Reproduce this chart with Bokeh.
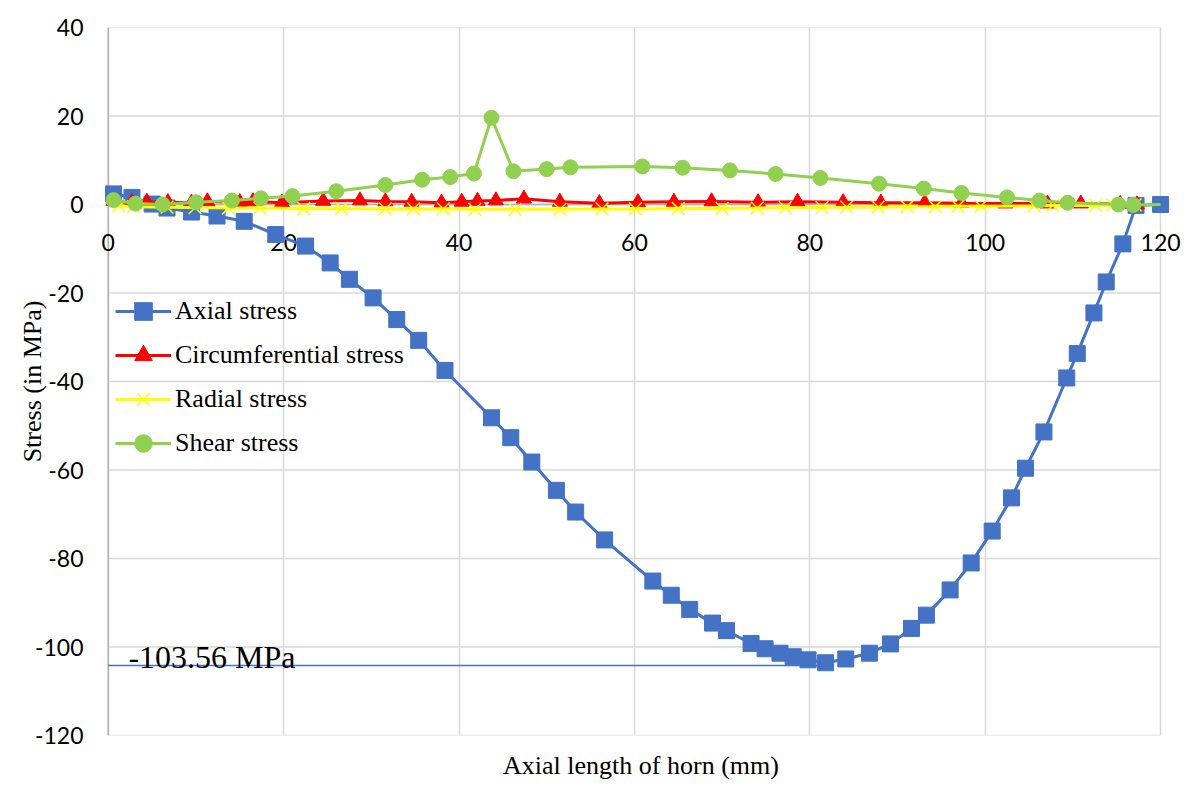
from bokeh.plotting import figure
from bokeh.models import FixedTicker, Legend, LegendItem
from bokeh.core.properties import value
from bokeh.embed import file_html
from bokeh.resources import INLINE

# ---- data ----
axial_x = [0.6, 2.7, 5.0, 6.7, 9.5, 12.4, 15.5, 19.1, 22.5, 25.3, 27.5, 30.2, 32.9, 35.4, 38.4,
           43.7, 45.9, 48.3, 51.1, 53.3, 56.6, 62.1, 64.2, 66.3, 68.9, 70.5, 73.3, 74.9, 76.6,
           78.1, 79.8, 81.8, 84.1, 86.8, 89.2, 91.6, 93.3, 96.0, 98.4, 100.8, 103.0, 104.6,
           106.7, 109.3, 110.5, 112.4, 113.8, 115.7, 117.2, 120.0]
axial_y = [2.4, 1.6, 0.1, -0.8, -1.7, -2.6, -3.8, -6.8, -9.4, -13.2, -16.9, -21.1, -26.0, -30.7, -37.5,
           -48.2, -52.7, -58.2, -64.6, -69.5, -75.8, -85.1, -88.3, -91.5, -94.6, -96.3, -99.2, -100.4, -101.4,
           -102.2, -102.9, -103.56, -102.7, -101.4, -99.3, -95.8, -92.8, -87.1, -81.0, -73.8, -66.3, -59.6,
           -51.4, -39.2, -33.7, -24.5, -17.5, -8.9, -0.2, 0.0]

circ_x = [0.6, 2.7, 4.4, 6.8, 9.5, 11.3, 15.0, 16.5, 19.8, 24.5, 28.7, 31.6, 34.6, 38.0, 40.3, 42.1,
          44.2, 47.4, 51.5, 56.0, 60.4, 64.5, 68.8, 74.1, 78.6, 83.8, 88.1, 93.1, 97.3, 102.3,
          107.1, 110.9, 115.4, 117.3]
circ_y = [0.8, 0.5, 0.6, 0.5, 0.4, 0.7, 0.5, 0.7, 0.4, 0.8, 0.9, 0.7, 0.6, 0.4, 0.6, 0.8,
          0.9, 1.3, 0.6, 0.3, 0.5, 0.6, 0.7, 0.5, 0.6, 0.5, 0.4, 0.4, 0.3, 0.2,
          0.2, 0.2, 0.1, 0.0]

radial_x = [1.2, 2.9, 6.7, 9.9, 13.7, 17.3, 22.3, 26.6, 31.6, 34.8, 38.2, 41.8, 46.4, 51.5, 56.3,
            60.1, 65.0, 70.0, 74.0, 77.2, 81.4, 84.2, 87.8, 91.1, 94.3, 96.9, 99.5, 105.6, 107.7,
            112.6, 114.5, 117.1]
radial_y = [-0.3, -0.5, -0.6, -0.7, -0.8, -0.8, -0.9, -0.9, -1.0, -1.0, -1.0, -1.1, -1.1, -1.1, -1.0,
            -1.0, -0.9, -0.9, -0.8, -0.7, -0.7, -0.6, -0.6, -0.5, -0.5, -0.4, -0.4, -0.3, -0.2,
            -0.2, -0.1, -0.1]

shear_x = [0.6, 3.1, 6.2, 10.0, 14.1, 17.4, 21.0, 26.0, 31.6, 35.8, 39.0, 41.7, 43.7, 46.2, 50.0,
           52.7, 60.9, 65.5, 70.9, 76.1, 81.2, 87.9, 93.0, 97.3, 102.5, 106.2, 109.4, 115.2, 116.9, 120.0]
shear_y = [1.0, 0.2, 0.0, 0.5, 0.9, 1.4, 1.9, 3.0, 4.4, 5.6, 6.2, 7.0, 19.6, 7.5, 8.0,
           8.4, 8.6, 8.3, 7.7, 6.9, 6.0, 4.7, 3.6, 2.6, 1.6, 0.9, 0.4, 0.0, -0.1, 0.0]

x_ticks = [0, 20, 40, 60, 80, 100, 120]
y_ticks = [-120, -100, -80, -60, -40, -20, 0, 20, 40]
min_label = "-103.56 MPa"
min_line_y = -104.2
min_line_x_end = 81.8

SERIF = "Liberation Serif"
SANS = "Lato"

X0, X1 = x_ticks[0], x_ticks[-1]
Y0, Y1 = y_ticks[0], y_ticks[-1]

# frame is a little wider than the 0..120 plot area so the edge tick labels are not clipped
p = figure(frame_width=1083, frame_height=708,
           x_range=(-1, 122.5), y_range=(Y0, Y1),
           output_backend="svg", toolbar_location=None,
           min_border_left=99, min_border_top=27, min_border_right=18, min_border_bottom=47)
p.outline_line_color = None
p.background_fill_color = "white"
p.border_fill_color = "white"

# vertical grid
p.xgrid.ticker = FixedTicker(ticks=x_ticks)
p.xgrid.grid_line_color = "#d9d9d9"
p.xgrid.grid_line_width = 1.5
# horizontal grid limited to the 0..120 plot area
p.ygrid.visible = False
p.segment(x0=[X0] * len(y_ticks), x1=[X1] * len(y_ticks), y0=y_ticks, y1=y_ticks,
          line_color="#d9d9d9", line_width=1.5)
# axis lines (y = 0 and x = 0)
p.segment(x0=[X0], x1=[X1], y0=[0], y1=[0], line_color="#b0b0b0", line_width=1.5)
p.segment(x0=[0], x1=[0], y0=[Y0], y1=[Y1], line_color="#b0b0b0", line_width=1.5)

# x axis (bottom): only the title
p.xaxis.ticker = FixedTicker(ticks=[])
p.xaxis.axis_line_color = None
p.xaxis.major_tick_line_color = None
p.xaxis.minor_tick_line_color = None
p.xaxis.major_label_standoff = 0
p.xaxis.axis_label = "Axial length of horn (mm)"
p.xaxis.axis_label_text_font = SERIF
p.xaxis.axis_label_text_font_style = "normal"
p.xaxis.axis_label_text_font_size = "26px"
p.xaxis.axis_label_text_color = "black"
p.xaxis.axis_label_standoff = 15

# y axis
p.yaxis.ticker = FixedTicker(ticks=y_ticks)
p.yaxis.major_label_overrides = {t: str(t) for t in y_ticks}
p.yaxis.axis_line_color = None
p.yaxis.major_tick_line_color = None
p.yaxis.minor_tick_line_color = None
p.yaxis.major_label_text_font = SANS
p.yaxis.major_label_text_font_size = "23px"
p.yaxis.major_label_text_color = "black"
p.yaxis.major_label_standoff = 10
p.yaxis.axis_label = "Stress (in MPa)"
p.yaxis.axis_label_text_font = SERIF
p.yaxis.axis_label_text_font_style = "normal"
p.yaxis.axis_label_text_font_size = "26px"
p.yaxis.axis_label_text_color = "black"
p.yaxis.axis_label_standoff = -15

# x tick labels along the zero line
p.text(x=x_ticks, y=[-8.7] * len(x_ticks), text=[str(t) for t in x_ticks],
       text_font=value(SANS), text_font_size="23px", text_color="black",
       text_align="center", text_baseline="middle")

# min reference line and label
p.line([0, min_line_x_end], [min_line_y, min_line_y], line_color="#4472C4", line_width=1.5)
p.text(x=[2.3], y=[-102.3], text=[min_label], text_font=value(SERIF), text_font_size="32px",
       text_color="black", text_align="left", text_baseline="alphabetic")

# series
la = p.line(axial_x, axial_y, line_color="#4472C4", line_width=3)
sa = p.scatter(axial_x, axial_y, marker="square", size=16, fill_color="#4472C4", line_color="#4472C4")

lc = p.line(circ_x, circ_y, line_color="#FF0000", line_width=3)
sc = p.scatter(circ_x, circ_y, marker="triangle", size=15, fill_color="#FF0000", line_color="#FF0000")

lr = p.line(radial_x, radial_y, line_color="#FFFF00", line_width=3)
sr = p.scatter(radial_x, radial_y, marker="x", size=18, line_color="#FFFF00", line_width=1.5)

ls = p.line(shear_x, shear_y, line_color="#92D050", line_width=3)
ss = p.scatter(shear_x[:-1], shear_y[:-1], marker="circle", size=15, fill_color="#92D050", line_color="#92D050")

legend = Legend(items=[
    LegendItem(label="Axial stress", renderers=[la, sa]),
    LegendItem(label="Circumferential stress", renderers=[lc, sc]),
    LegendItem(label="Radial stress", renderers=[lr, sr]),
    LegendItem(label="Shear stress", renderers=[ls, ss]),
], location=(16, 270))
legend.background_fill_alpha = 0
legend.border_line_color = None
legend.padding = 0
legend.margin = 0
legend.spacing = 0
legend.glyph_width = 56
legend.glyph_height = 44
legend.label_height = 44
legend.label_standoff = 4
legend.label_text_font = SERIF
legend.label_text_font_size = "26px"
legend.label_text_color = "black"
legend.label_text_baseline = "middle"
p.add_layout(legend)

open("out.html", "w").write(file_html(p, INLINE))
